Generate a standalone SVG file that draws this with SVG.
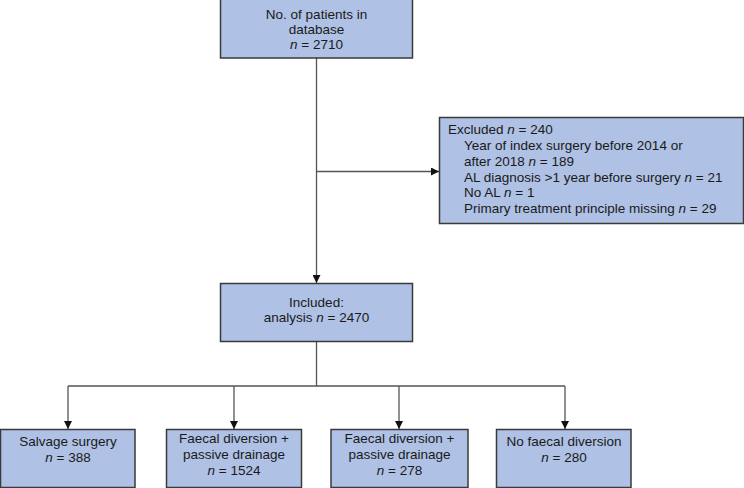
<svg xmlns="http://www.w3.org/2000/svg" width="744" height="488" viewBox="0 0 744 488">
<defs>
<style>
.box{fill:#afc1e4;stroke:#3a3a3a;stroke-width:1.5}
.t{font-family:"Liberation Sans",Arial,sans-serif;font-size:13.5px;fill:#1a1a1a}
.c{text-anchor:middle}
.ln{fill:none;stroke:#555;stroke-width:1.3}
</style>
<marker id="ah" viewBox="0 0 10 10" refX="10" refY="5" markerWidth="8" markerHeight="8" markerUnits="userSpaceOnUse" orient="auto">
<path d="M0,0 L10,5 L0,10 z" fill="#111"/>
</marker>
</defs>
<rect width="744" height="488" fill="#fff"/>
<g id="connectors">
<line class="ln" x1="316.5" y1="58" x2="316.5" y2="283" marker-end="url(#ah)"/>
<line class="ln" x1="316.5" y1="171.5" x2="439" y2="171.5" marker-end="url(#ah)"/>
<line class="ln" x1="316.5" y1="342" x2="316.5" y2="386"/>
<line class="ln" x1="68" y1="386" x2="565" y2="386"/>
<line class="ln" x1="68" y1="386" x2="68" y2="429" marker-end="url(#ah)"/>
<line class="ln" x1="234" y1="386" x2="234" y2="429" marker-end="url(#ah)"/>
<line class="ln" x1="399" y1="386" x2="399" y2="429" marker-end="url(#ah)"/>
<line class="ln" x1="565" y1="386" x2="565" y2="429" marker-end="url(#ah)"/>
</g>
<g id="database">
<rect class="box" x="220.5" y="-1" width="192" height="59"/>
<text class="t c" x="316.5" y="19">No. of patients in</text>
<text class="t c" x="316.5" y="34">database</text>
<text class="t c" x="316.5" y="49"><tspan font-style="italic">n</tspan> = 2710</text>
</g>
<g id="excluded">
<rect class="box" x="439.5" y="117.5" width="304" height="106"/>
<text class="t" x="448" y="134">Excluded <tspan font-style="italic">n</tspan> = 240</text>
<text class="t" x="464" y="150">Year of index surgery before 2014 or</text>
<text class="t" x="464" y="166">after 2018 <tspan font-style="italic">n</tspan> = 189</text>
<text class="t" x="464" y="182">AL diagnosis &gt;1 year before surgery <tspan font-style="italic">n</tspan> = 21</text>
<text class="t" x="464" y="197">No AL <tspan font-style="italic">n</tspan> = 1</text>
<text class="t" x="464" y="213">Primary treatment principle missing <tspan font-style="italic">n</tspan> = 29</text>
</g>
<g id="included">
<rect class="box" x="220.5" y="283.5" width="192" height="58"/>
<text class="t c" x="316.5" y="307">Included:</text>
<text class="t c" x="316.5" y="322">analysis <tspan font-style="italic">n</tspan> = 2470</text>
</g>
<g id="salvage">
<rect class="box" x="0.5" y="429.5" width="134.5" height="58"/>
<text class="t c" x="68" y="446">Salvage surgery</text>
<text class="t c" x="68" y="462"><tspan font-style="italic">n</tspan> = 388</text>
</g>
<g id="faecal1">
<rect class="box" x="166.5" y="429.5" width="135" height="58"/>
<text class="t c" x="234" y="443">Faecal diversion +</text>
<text class="t c" x="234" y="459">passive drainage</text>
<text class="t c" x="234" y="475"><tspan font-style="italic">n</tspan> = 1524</text>
</g>
<g id="faecal2">
<rect class="box" x="331" y="429.5" width="137" height="58"/>
<text class="t c" x="399.5" y="443">Faecal diversion +</text>
<text class="t c" x="399.5" y="459">passive drainage</text>
<text class="t c" x="399.5" y="475"><tspan font-style="italic">n</tspan> = 278</text>
</g>
<g id="nofaecal">
<rect class="box" x="496.5" y="429.5" width="134.5" height="58"/>
<text class="t c" x="564" y="446">No faecal diversion</text>
<text class="t c" x="564" y="462"><tspan font-style="italic">n</tspan> = 280</text>
</g>
</svg>
